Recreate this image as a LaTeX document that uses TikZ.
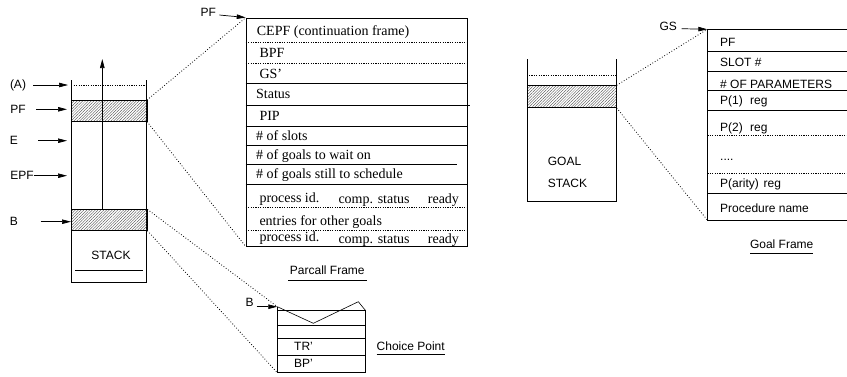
\documentclass[tikz,border=0pt]{standalone}
\usepackage{fontspec}
\setmainfont{Liberation Serif}
\setsansfont{Liberation Sans}
\usetikzlibrary{patterns.meta,arrows.meta}
\begin{document}
\begin{tikzpicture}[x=1pt,y=-1pt,
  lbl/.style={font=\sffamily\fontsize{12}{14}\selectfont, inner sep=0pt},
  ser/.style={font=\fontsize{14}{16}\selectfont, inner sep=0pt, anchor=base west},
  san/.style={font=\sffamily\fontsize{12}{14}\selectfont, inner sep=0pt, anchor=base west},
  ptr/.style={-{Triangle[length=9pt,width=4.5pt]}, line width=0.7pt},
  dotline/.style={line width=0.8pt, dash pattern=on 0.8pt off 2pt},
  fine/.style={line width=0.6pt, dash pattern=on 1.2pt off 1.2pt},
  hatch/.style={draw, line width=0.7pt, inner sep=0pt, anchor=north west,
    pattern={Lines[angle=45,distance=2pt,line width=0.35pt]}, pattern color=black!75},
  wall/.style={line width=0.8pt},
  rule/.style={line width=0.6pt}]
\useasboundingbox (0,0) rectangle (847,376);

% ---------------- left stack ----------------
\coordinate (sTL) at (71,80); \coordinate (sTR) at (146.7,80);
\coordinate (sBL) at (71,282.7); \coordinate (sBR) at (146.7,282.7);
\draw[wall] (sTL) -- (sBL) -- (sBR) -- (sTR);
\coordinate (sd0) at (73.7,85.5); \coordinate (sd1) at (146,85.5);
\draw[fine] (sd0) -- (sd1);
\node[hatch, minimum width=75.7pt, minimum height=21.3pt] (pfblk) at (71,100) {};
\node[hatch, minimum width=75.7pt, minimum height=20.7pt] (bblk) at (71,209.3) {};
\coordinate (up0) at (102.3,208.5); \coordinate (up1) at (102.3,59);
\draw[ptr] (up0) -- (up1);
\node[lbl] (stk) at (111,255.7) {STACK};
\coordinate (su0) at (75,270.7); \coordinate (su1) at (142.7,270.7);
\draw[rule] (su0) -- (su1);

% labels on the left
\node[lbl] (lA) at (18,85) {(A)};
\node[lbl] (lPF) at (18,109.3) {PF};
\node[lbl] (lE) at (14,140.7) {E};
\node[lbl] (lEPF) at (22,175.7) {EPF};
\node[lbl] (lB) at (14,221.7) {B};
\coordinate (aA0) at (33,85);      \coordinate (aA1) at (68,85);
\coordinate (aPF0) at (36,109.3);  \coordinate (aPF1) at (67,109.3);
\coordinate (aE0) at (38,140.7);   \coordinate (aE1) at (67,140.7);
\coordinate (aEPF0) at (33.5,175.7); \coordinate (aEPF1) at (67,175.7);
\coordinate (aB0) at (40.7,221.7); \coordinate (aB1) at (71,221.7);
\draw[ptr] (aA0) -- (aA1);
\draw[ptr] (aPF0) -- (aPF1);
\draw[ptr] (aE0) -- (aE1);
\draw[ptr] (aEPF0) -- (aEPF1);
\draw[ptr] (aB0) -- (aB1);

% ---------------- parcall frame ----------------
\node[draw, line width=0.8pt, inner sep=0pt, anchor=north west,
  minimum width=221pt, minimum height=228pt] (pcf) at (245.7,17.7) {};
\draw[fine] (245.7,42.3) -- (466.7,42.3);
\draw[fine] (245.7,63.3) -- (466.7,63.3);
\draw[rule] (245.7,83.3) -- (466.7,83.3);
\draw[rule] (245.7,105) -- (469.5,105);
\draw[rule] (245.7,126) -- (466.7,126);
\draw[rule] (245.7,145) -- (466.7,145);
\draw[rule] (245.7,164.3) -- (456.7,164.3);
\draw[rule] (245.7,184.3) -- (466.7,184.3);
\draw[fine] (245.7,207.3) -- (466.7,207.3);
\draw[fine] (245.7,230) -- (466.7,230);

\node[ser] (t1) at (256.7,35) {CEPF (continuation frame)};
\node[ser] (t2) at (259.3,57) {BPF};
\node[ser] (t3) at (259.3,78.5) {GS'};
\node[ser] (t4) at (256,98.8) {Status};
\node[ser] (t5) at (259.3,120.2) {PIP};
\node[ser] (t6) at (256,140.2) {\# of slots};
\node[ser] (t7) at (256,159.2) {\# of goals to wait on};
\node[ser] (t8) at (256,178.5) {\# of goals still to schedule};
\node[ser] (t9a) at (259.3,202.5) {process id.};
\node[ser] (t9b) at (338.3,203.5) {comp. status};
\node[ser] (t9c) at (427.7,203.5) {ready};
\node[ser] (t10) at (259.3,225.8) {entries for other goals};
\node[ser] (t11a) at (259.3,241.5) {process id.};
\node[ser] (t11b) at (338.3,243.5) {comp. status};
\node[ser] (t11c) at (427.7,243.5) {ready};

\node[lbl] (pfl) at (208.3,12.7) {PF};
\coordinate (pfa0) at (219.3,15); \coordinate (pfa1) at (245.7,17.5);
\draw[ptr] (pfa0) -- (pfa1);

\node[lbl] (pcft) at (327.3,270.7) {Parcall Frame};
\coordinate (pu0) at (288.3,280); \coordinate (pu1) at (366.7,280);
\draw[rule] (pu0) -- (pu1);

\draw[dotline] (pfblk.north east) -- (pcf.north west);
\draw[dotline] (pfblk.south east) -- (pcf.south west);

% ---------------- choice point ----------------
\coordinate (cTL) at (277.3,306.7);
\coordinate (cV) at (313.3,323.3);
\coordinate (cP) at (358.3,301.7);
\coordinate (cTR) at (365.7,310.7);
\coordinate (cBL) at (277.3,372.7);
\coordinate (cBR) at (365.7,372.7);
\draw[rule] (cTL) -- (cV) -- (cP) -- (cTR);
\draw[wall] (cTL) -- (cBL) -- (cBR) -- (cTR);
\draw[rule] (277.3,310.7) -- (365.7,310.7);
\draw[rule] (277.3,325.3) -- (365.7,325.3);
\draw[rule] (277.3,338.7) -- (365.7,338.7);
\draw[rule] (277.3,355) -- (365.7,355);
\node[san] (tr) at (294,350.7) {TR'};
\node[san] (bp) at (294,367.3) {BP'};
\node[lbl] (cpt) at (410.7,346.7) {Choice Point};
\coordinate (cu0) at (376.7,353.8); \coordinate (cu1) at (445.3,353.8);
\draw[rule] (cu0) -- (cu1);
\node[lbl] (cBl) at (249.7,302) {B};
\coordinate (cba0) at (256.7,306.7);
\draw[ptr] (cba0) -- (cTL);
\draw[dotline] (bblk.north east) -- (cTL);
\draw[dotline] (bblk.south east) -- (cBL);

% ---------------- goal stack ----------------
\coordinate (gTL) at (527.3,59.3); \coordinate (gTR) at (616,59.3);
\coordinate (gBL) at (527.3,201); \coordinate (gBR) at (616,201);
\draw[wall] (gTL) -- (gBL) -- (gBR) -- (gTR);
\draw[fine] (529,75.3) -- (616,75.3);
\node[hatch, minimum width=88.7pt, minimum height=22pt] (gsblk) at (527.3,85.3) {};
\node[san] (goal) at (547.7,165.3) {GOAL};
\node[san] (gstk) at (547.7,187.3) {STACK};

% ---------------- goal frame ----------------
\coordinate (fTL) at (707.3,29.3); \coordinate (fBL) at (707.3,220);
\coordinate (fTR) at (847,29.3);   \coordinate (fBR) at (847,220);
\draw[wall] (fTR) -- (fTL) -- (fBL) -- (fBR);
\draw[rule] (707.3,51) -- (847,51);
\draw[rule] (707.3,71) -- (847,71);
\draw[rule] (707.3,90.7) -- (847,90.7);
\draw[rule] (707.3,110) -- (847,110);
\draw[fine] (707.3,135) -- (847,135);
\draw[fine] (707.3,173.3) -- (847,173.3);
\draw[rule] (707.3,193.3) -- (847,193.3);
\node[san] (g1) at (720,46) {PF};
\node[san] (g2) at (720,66) {SLOT \#};
\node[san] (g3) at (720,88) {\# OF PARAMETERS};
\node[san] (g4) at (720,104) {P(1)\hspace{4pt} reg};
\node[san] (g5) at (720,131) {P(2)\hspace{4pt} reg};
\node[san] (g6) at (720,160.5) {....};
\node[san] (g7) at (720,187) {P(arity)\hspace{1.5pt} reg};
\node[san] (g8) at (720,212) {Procedure name};
\node[lbl] (gft) at (781.7,244) {Goal Frame};
\coordinate (gu0) at (750,253.3); \coordinate (gu1) at (813.3,253.3);
\draw[rule] (gu0) -- (gu1);

\node[lbl] (gsl) at (668.3,26) {GS};
\coordinate (gsa0) at (681.7,28.7);
\draw[ptr] (gsa0) -- (fTL);
\draw[dotline] (gsblk.north east) -- (fTL);
\draw[dotline] (gsblk.south east) -- (fBL);
\end{tikzpicture}
\end{document}
